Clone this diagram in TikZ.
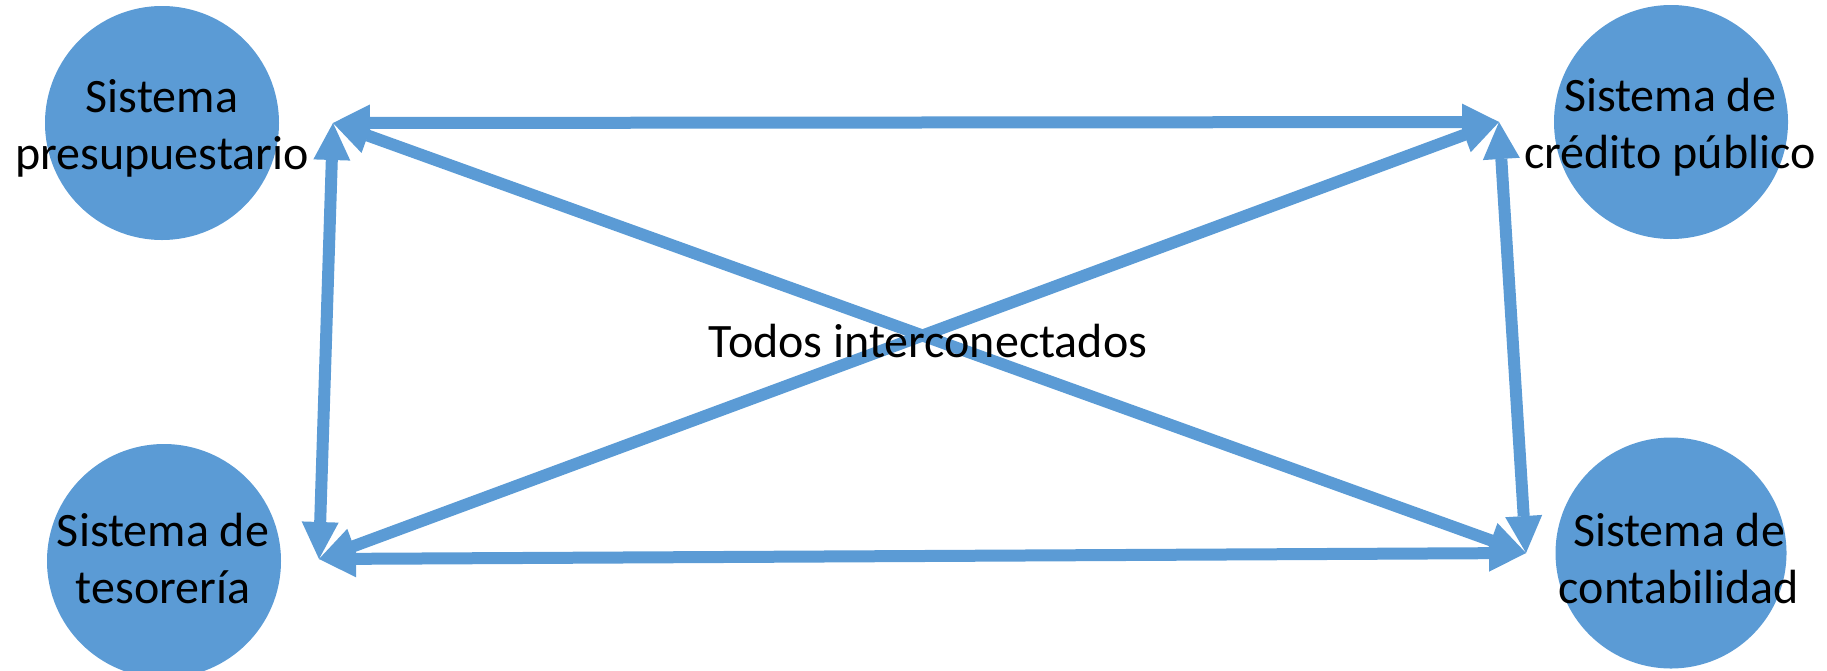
\documentclass[tikz,border=0pt]{standalone}
\usepackage{fontspec}
\setmainfont{Carlito}
\usetikzlibrary{arrows.meta}
\definecolor{ofblue}{HTML}{5B9BD5}
\begin{document}
\begin{tikzpicture}[x=1pt,y=-1pt,
  sysnode/.style={circle,fill=ofblue,draw=none,minimum size=234pt,inner sep=0pt},
  lbl/.style={align=center,font=\fontsize{48}{57}\selectfont,inner sep=0pt},
  tipA/.tip={Triangle[length=37pt,width=37pt,line width=0pt]},
  link/.style={draw=ofblue,line width=12pt,tipA-tipA}]
\useasboundingbox (0,0) rectangle (1827,670);
% circles
\node[sysnode] (P) at (162,123) {};
\node[sysnode] (C) at (1671,122) {};
\node[sysnode] (T) at (164,561) {};
\node[sysnode,minimum size=231pt] (K) at (1671,553) {};
% connection points
\coordinate (pP) at (333,123);
\coordinate (pC) at (1499,122);
\coordinate (pT) at (319,559);
\coordinate (pK) at (1526,553);
% connectors
\draw[link] (pP) -- (pC);
\draw[link] (pP) -- (pT);
\draw[link] (pP) -- (pK);
\draw[link] (pC) -- (pT);
\draw[link] (pC) -- (pK);
\draw[link] (pT) -- (pK);
% labels
\node[lbl] (lP) at (162,128) {Sistema\\presupuestario};
\node[lbl] (lC) at (1670,127) {Sistema de\\crédito público};
\node[lbl] (lT) at (163,558) {Sistema de\\tesorería};
\node[lbl] (lK) at (1679,558) {Sistema de\\contabilidad};
\node[lbl] (mid) at (928,341) {Todos interconectados};
\end{tikzpicture}
\end{document}
